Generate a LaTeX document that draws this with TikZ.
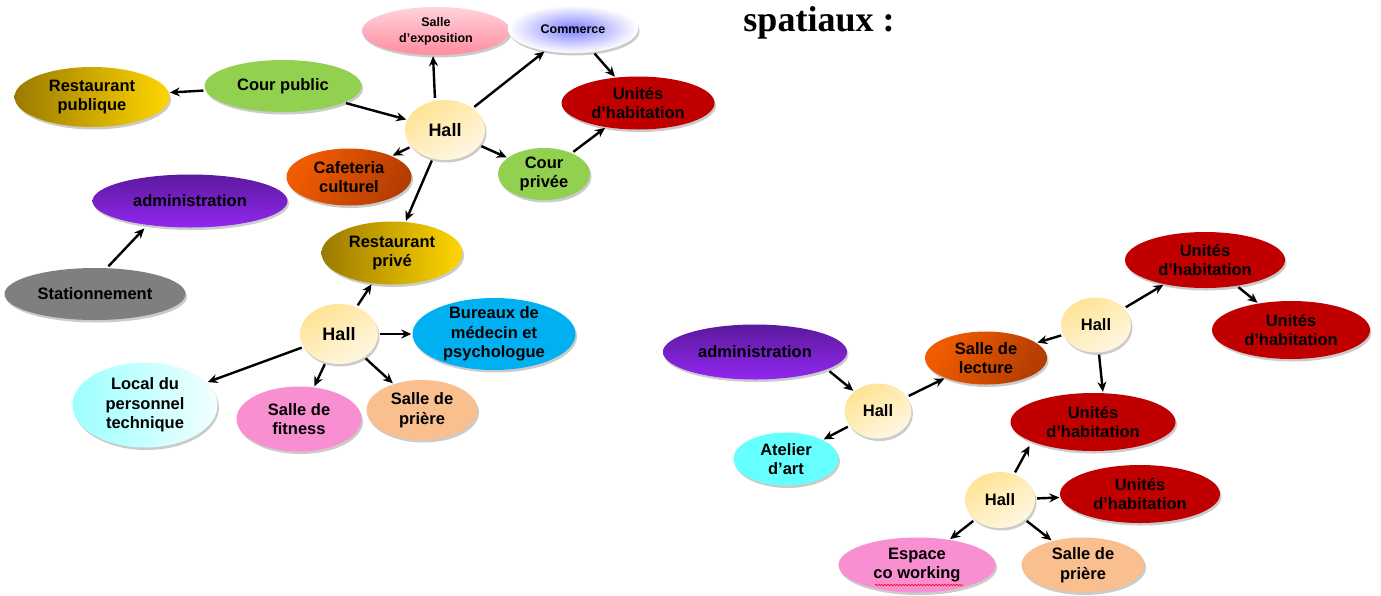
\documentclass[tikz,border=0pt]{standalone}
\usepackage{fontspec}
\setmainfont{Liberation Sans}
\newfontfamily\titlefont{Liberation Serif}
\usetikzlibrary{shapes.geometric,arrows.meta,shadows,decorations.pathmorphing}
\definecolor{golddark}{HTML}{9C7A00}
\definecolor{goldlight}{HTML}{FFD600}
\definecolor{grn}{HTML}{92D050}
\definecolor{pinktop}{HTML}{FFD3DC}
\definecolor{pinkbot}{HTML}{FF8C9E}
\definecolor{lav}{HTML}{8080FF}
\definecolor{dred}{HTML}{C00000}
\definecolor{hallA}{HTML}{FFE394}
\definecolor{hallB}{HTML}{FFF7E3}
\definecolor{orgA}{HTML}{F25C00}
\definecolor{orgB}{HTML}{B33D02}
\definecolor{purA}{HTML}{5B1A9C}
\definecolor{purB}{HTML}{9127F0}
\definecolor{greyC}{HTML}{7F7F7F}
\definecolor{blueC}{HTML}{00B0F0}
\definecolor{cyA}{HTML}{9CFFFF}
\definecolor{cyB}{HTML}{F2FFFF}
\definecolor{pinkC}{HTML}{F88FD1}
\definecolor{peach}{HTML}{F9BF8F}
\definecolor{cyanC}{HTML}{66FFFF}
\begin{document}
\begin{tikzpicture}[x=1pt,y=-1pt,
  bub/.style={ellipse, inner sep=-8pt, align=center, text=black,
    font=\fontsize{16.5}{19.5}\selectfont\bfseries,
    drop shadow={shadow xshift=1.5pt,shadow yshift=-2.5pt,fill=black!45,opacity=0.45}},
  smallbub/.style={bub, font=\fontsize{12.5}{16}\selectfont\bfseries},
  gold/.style={left color=golddark, right color=goldlight},
  hall/.style={bub, top color=hallA, bottom color=hallB, shading angle=30},
  arr/.style={-{Stealth[length=10pt,width=9pt]}, line width=2.4pt, shorten <=2pt, shorten >=1pt}
]
\useasboundingbox (0,0) rectangle (1381,595);

% title
\node[font=\titlefont\fontsize{36}{40}\selectfont\bfseries, anchor=base] (title) at (819,31) {spatiaux :};

% ---------- left cluster ----------
\node[bub, gold, minimum width=155pt, minimum height=60pt] (rpub) at (92,97) {Restaurant\\publique};
\node[bub, fill=grn, minimum width=157pt, minimum height=52pt] (cpub) at (283,86) {Cour public};
\node[smallbub, top color=pinktop, bottom color=pinkbot, minimum width=148pt, minimum height=48pt] (expo) at (436,31) {Salle\\d'exposition};
\node[smallbub, inner color=lav, outer color=white, minimum width=130pt, minimum height=48pt] (comm) at (573,29) {Commerce};
\node[bub, fill=dred, minimum width=153pt, minimum height=53pt] (u0) at (638,103) {Unités\\d'habitation};
\node[hall, minimum width=80pt, minimum height=60pt, font=\fontsize{18}{20}\selectfont\bfseries] (h1) at (445,130) {Hall};
\node[bub, left color=orgA, right color=orgB, shading angle=60, minimum width=125pt, minimum height=57pt] (caf) at (349,177) {Cafeteria\\culturel};
\node[bub, fill=grn, minimum width=92pt, minimum height=52pt] (cpri) at (544,174) {Cour\\privée};
\node[bub, top color=purA, bottom color=purB, minimum width=195pt, minimum height=53pt] (adm) at (190,201) {administration};
\node[bub, gold, minimum width=141pt, minimum height=63pt] (rpri) at (392,253) {Restaurant\\privé};
\node[bub, fill=greyC, minimum width=181pt, minimum height=52pt] (stat) at (95,294) {Stationnement};
\node[hall, minimum width=78pt, minimum height=60pt, font=\fontsize{18}{20}\selectfont\bfseries] (h2) at (339,334) {Hall};
\node[bub, fill=blueC, minimum width=163pt, minimum height=72pt] (bur) at (494,334) {Bureaux de\\médecin et\\psychologue};
\node[bub, left color=cyA, right color=cyB, minimum width=145pt, minimum height=85pt] (loc) at (145,405) {Local du\\personnel\\technique};
\node[bub, fill=pinkC, minimum width=125pt, minimum height=65pt] (fit) at (299,419) {Salle de\\fitness};
\node[bub, fill=peach, minimum width=111pt, minimum height=60pt] (pri) at (422,410) {Salle de\\prière};

\draw[arr] (cpub) -- (rpub);
\draw[arr] (cpub) -- (h1);
\draw[arr] ([xshift=-10pt]h1.north) -- ([xshift=-3pt]expo.south);
\draw[arr] (h1) -- (comm);
\draw[arr] (comm) -- (u0);
\draw[arr] (h1) -- (caf);
\draw[arr] (h1) -- (cpri);
\draw[arr] (cpri) -- (u0);
\draw[arr] (h1) -- (rpri);
\draw[arr] ([xshift=12pt]stat.north) -- ([xshift=-45pt]adm.south);
\draw[arr] (h2) -- (rpri);
\draw[arr] (h2) -- (bur);
\draw[arr] (h2) -- (loc);
\draw[arr] (h2) -- (fit);
\draw[arr] (h2) -- (pri);

% ---------- right cluster ----------
\node[bub, fill=dred, minimum width=160pt, minimum height=56pt] (r1) at (1205,260) {Unités\\d'habitation};
\node[hall, minimum width=70pt, minimum height=55pt] (hr1) at (1096,325) {Hall};
\node[bub, fill=dred, minimum width=158pt, minimum height=58pt] (r2) at (1291,330) {Unités\\d'habitation};
\node[bub, top color=purA, bottom color=purB, minimum width=184pt, minimum height=55pt] (admr) at (755,352) {administration};
\node[bub, left color=orgA, right color=orgB, shading angle=60, minimum width=122pt, minimum height=53pt] (lect) at (986,358) {Salle de\\lecture};
\node[hall, minimum width=67pt, minimum height=55pt] (hr2) at (878,411) {Hall};
\node[bub, fill=dred, minimum width=165pt, minimum height=58pt] (r3) at (1093,422) {Unités\\d'habitation};
\node[bub, fill=cyanC, minimum width=105pt, minimum height=53pt] (atel) at (786,459) {Atelier\\d'art};
\node[hall, minimum width=70pt, minimum height=56pt] (hr3) at (1000,500) {Hall};
\node[bub, fill=dred, minimum width=160pt, minimum height=58pt] (r4) at (1140,494) {Unités\\d'habitation};
\node[bub, fill=pinkC, minimum width=157pt, minimum height=55pt] (cow) at (917,565) {Espace\\co working};
\node[bub, fill=peach, minimum width=123pt, minimum height=55pt] (prir) at (1083,565) {Salle de\\prière};

\draw[red, line width=0.6pt, decorate, decoration={snake, amplitude=0.8pt, segment length=3pt}]
  ([shift={(-42,20)}]cow.center) coordinate (sq1) -- ([shift={(46,20)}]cow.center) coordinate (sq2);

\draw[arr] ([shift={(73,18)}]admr.center) -- (hr2);
\draw[arr] (hr2) -- (lect);
\draw[arr] (hr2) -- (atel);
\draw[arr] (hr1) -- (lect);
\draw[arr] (hr1) -- (r1);
\draw[arr] (r1) -- (r2);
\draw[arr] (hr1) -- ([xshift=10pt]r3.north);
\draw[arr] (hr3) -- ([shift={(-63,23)}]r3.center);
\draw[arr] (hr3) -- (r4);
\draw[arr] (hr3) -- (cow);
\draw[arr] (hr3) -- (prir);
\end{tikzpicture}
\end{document}
